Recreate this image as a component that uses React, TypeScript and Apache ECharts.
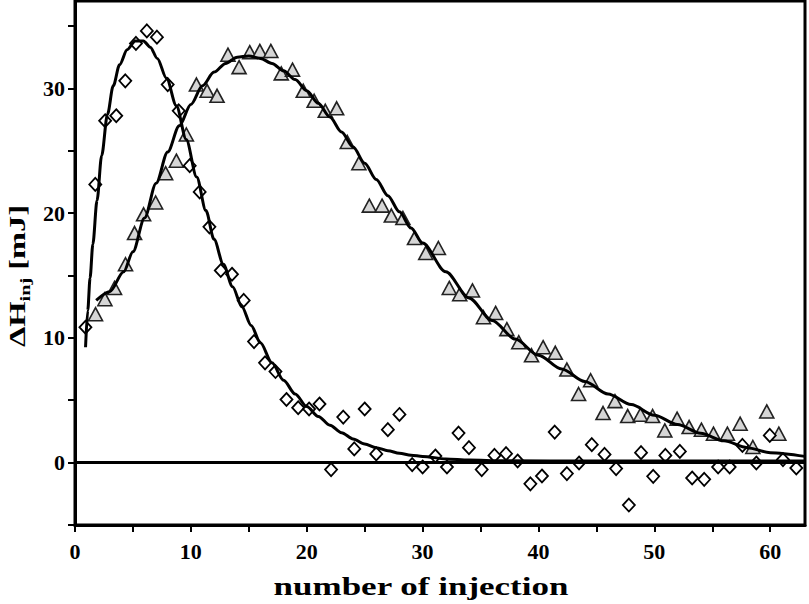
import React, { useEffect, useRef } from "react";
import * as echarts from "echarts";

// Open diamonds (series 1)
const diamondX = [0.9, 1.75, 2.6, 3.56, 4.34, 5.26, 6.2, 7.07, 8.0, 8.95, 9.9, 10.76, 11.6, 12.58, 13.55, 14.56, 15.45, 16.4, 17.3, 18.25, 19.26, 20.2, 21.1, 22.1, 23.15, 24.1, 25.0, 26.0, 27.0, 28.0, 29.1, 30.0, 31.1, 32.1, 33.1, 34.0, 35.1, 36.2, 37.2, 38.2, 39.3, 40.3, 41.4, 42.45, 43.5, 44.6, 45.7, 46.7, 47.8, 48.85, 49.9, 50.95, 52.2, 53.26, 54.3, 55.5, 56.5, 57.6, 58.8, 59.96, 61.1, 62.25];
const diamondY = [10.85, 22.3, 27.4, 27.8, 30.6, 33.6, 34.6, 34.1, 30.3, 28.2, 23.8, 21.7, 18.9, 15.4, 15.1, 13.0, 9.7, 8.0, 7.3, 5.06, 4.4, 4.3, 4.7, -0.56, 3.65, 1.1, 4.3, 0.7, 2.64, 3.86, -0.16, -0.35, 0.53, -0.35, 2.37, 1.2, -0.56, 0.58, 0.72, 0.13, -1.7, -1.07, 2.45, -0.88, -0.03, 1.44, 0.66, -0.48, -3.4, 0.8, -1.1, 0.58, 0.9, -1.23, -1.34, -0.35, -0.35, 1.38, -0.03, 2.18, 0.24, -0.43];

// Grey triangles (series 2)
const triangleX = [1.77, 2.58, 3.41, 4.36, 5.14, 5.92, 6.96, 7.82, 8.75, 9.61, 10.48, 11.4, 12.26, 13.2, 14.16, 15.08, 15.95, 16.9, 17.8, 18.77, 19.7, 20.64, 21.6, 22.58, 23.5, 24.5, 25.4, 26.5, 27.3, 28.3, 29.3, 30.27, 31.36, 32.3, 33.2, 34.3, 35.25, 36.3, 37.27, 38.3, 39.4, 40.4, 41.45, 42.45, 43.46, 44.5, 45.57, 46.6, 47.7, 48.8, 49.85, 50.9, 51.96, 53.0, 54.06, 55.1, 56.3, 57.4, 58.5, 59.7, 60.74];
const triangleY = [11.9, 13.1, 14.0, 15.9, 18.4, 19.9, 20.85, 23.2, 24.2, 26.3, 30.3, 29.8, 29.4, 32.7, 31.7, 32.9, 33.0, 33.0, 31.2, 31.5, 29.8, 29.0, 28.2, 28.4, 25.7, 24.0, 20.6, 20.6, 19.8, 19.6, 18.0, 16.8, 17.2, 14.0, 13.5, 13.8, 11.65, 12.0, 10.7, 9.65, 8.6, 9.25, 8.8, 7.46, 5.5, 6.6, 3.97, 4.93, 3.73, 3.84, 3.73, 2.58, 3.52, 2.85, 2.64, 2.32, 2.32, 3.12, 1.25, 4.1, 2.32];

// Fitted curve for diamonds
const diamondFitX = [0.91, 1.1, 1.3, 1.54, 1.9, 2.3, 2.8, 3.3, 3.85, 4.5, 5.2, 5.9, 6.5, 7.1, 7.9, 8.75, 9.6, 10.5, 11.3, 12.0, 12.8, 13.6, 14.4, 15.2, 16.0, 17.0, 18.0, 19.0, 20.0, 21.0, 22.0, 23.0, 24.0, 25.0, 26.0, 27.0, 28.0, 29.0, 30.0, 32.0, 34.0, 37.0, 45.0, 63.0];
const diamondFitY = [9.25, 12.2, 14.8, 17.5, 21.0, 24.6, 27.9, 30.2, 31.9, 33.1, 33.8, 33.8, 33.3, 32.4, 30.8, 28.6, 25.9, 22.9, 20.2, 17.9, 15.9, 14.1, 12.5, 11.0, 9.6, 8.0, 6.6, 5.5, 4.5, 3.7, 3.0, 2.4, 1.9, 1.5, 1.2, 0.95, 0.75, 0.6, 0.5, 0.3, 0.2, 0.15, 0.12, 0.12];

// Fitted curve for triangles
const triangleFitX = [1.83, 3.0, 4.2, 5.0, 6.0, 7.0, 8.0, 9.0, 10.0, 11.0, 12.0, 13.0, 14.0, 15.0, 16.0, 17.0, 18.0, 19.0, 20.0, 21.0, 22.0, 23.0, 24.0, 25.0, 26.0, 27.0, 28.0, 29.0, 30.0, 32.0, 34.0, 36.0, 38.0, 40.0, 42.0, 44.0, 46.0, 48.0, 50.0, 52.0, 54.0, 56.0, 58.0, 60.0, 63.0];
const triangleFitY = [13.0, 13.7, 15.3, 16.9, 19.6, 22.4, 24.9, 27.0, 28.7, 30.2, 31.3, 32.0, 32.5, 32.6, 32.4, 32.0, 31.4, 30.7, 29.8, 28.8, 27.7, 26.5, 25.3, 24.0, 22.7, 21.4, 20.1, 18.8, 17.6, 15.3, 13.2, 11.4, 9.9, 8.6, 7.5, 6.5, 5.5, 4.65, 3.8, 3.05, 2.35, 1.75, 1.2, 0.8, 0.5];

// Axis ticks and labels
const xTicks = [0, 5, 10, 15, 20, 25, 30, 35, 40, 45, 50, 55, 60];
const xLabels = [0, 10, 20, 30, 40, 50, 60];
const yTicks = [-5, 0, 5, 10, 15, 20, 25, 30, 35];
const yLabels = [0, 10, 20, 30];

const xTitle = "number of injection";
const yTitle = "{a|ΔH}{s|inj}{a| [mJ]}";

const FONT = "Liberation Serif";

const zip = (xs: number[], ys: number[]) => xs.map((x, i) => [x, ys[i]]);

export default function App() {
  const ref = useRef<HTMLDivElement>(null);
  useEffect(() => {
    if (!ref.current) return;
    const chart = echarts.init(ref.current, null, { renderer: "svg" });
    const axisLabelStyle = {
      fontFamily: FONT,
      fontWeight: "bold" as const,
      fontSize: 22,
      color: "#000",
    };
    chart.setOption({
      animation: false,
      backgroundColor: "#fff",
      grid: {
        left: 75,
        right: 4,
        top: 1,
        bottom: 79,
        show: true,
        borderColor: "#000",
        borderWidth: 3,
        outerBoundsMode: "none",
      },
      xAxis: {
        type: "value",
        min: 0,
        max: 63,
        axisLine: { show: true, onZero: false, lineStyle: { color: "#000", width: 3 } },
        axisTick: { show: true, customValues: xTicks, length: 7, lineStyle: { color: "#000", width: 2 } },
        axisLabel: { ...axisLabelStyle, customValues: xLabels, margin: 15 },
        splitLine: { show: false },
      },
      yAxis: {
        type: "value",
        min: -5,
        max: 37,
        axisLine: { show: true, onZero: false, lineStyle: { color: "#000", width: 3 } },
        axisTick: { show: true, customValues: yTicks, length: 7, lineStyle: { color: "#000", width: 2 } },
        axisLabel: { ...axisLabelStyle, customValues: yLabels, margin: 10 },
        splitLine: { show: false },
      },
      graphic: [
        {
          type: "text",
          x: 421,
          y: 587,
          scaleX: 1.4,
          style: {
            text: xTitle,
            fontFamily: FONT,
            fontWeight: "bold",
            fontSize: 25,
            fill: "#000",
            align: "center",
            verticalAlign: "middle",
          },
        },
        {
          type: "text",
          x: 17,
          y: 276,
          rotation: Math.PI / 2,
          scaleX: 1.35,
          style: {
            text: yTitle,
            align: "center",
            verticalAlign: "middle",
            fill: "#000",
            fontFamily: FONT,
            fontWeight: "bold",
            rich: {
              a: { fontFamily: FONT, fontWeight: "bold", fontSize: 24, fill: "#000", lineHeight: 30 },
              s: { fontFamily: FONT, fontWeight: "bold", fontSize: 15, fill: "#000", lineHeight: 15, verticalAlign: "bottom" },
            },
          },
        },
      ],
      series: [
        {
          name: "fit diamonds",
          type: "line",
          data: zip(diamondFitX, diamondFitY),
          showSymbol: false,
          smooth: 0.3,
          smoothMonotone: "x",
          lineStyle: { color: "#000", width: 3 },
          markLine: {
            silent: true,
            symbol: ["none", "none"],
            label: { show: false },
            lineStyle: { color: "#000", width: 3, type: "solid" },
            data: [{ yAxis: 0 }],
          },
        },
        {
          name: "fit triangles",
          type: "line",
          data: zip(triangleFitX, triangleFitY),
          showSymbol: false,
          smooth: 0.3,
          smoothMonotone: "x",
          lineStyle: { color: "#000", width: 3 },
        },
        {
          name: "triangles",
          type: "scatter",
          symbol: "triangle",
          symbolSize: [14, 13],
          data: zip(triangleX, triangleY),
          itemStyle: { color: "#d6d6d6", borderColor: "#222", borderWidth: 1.6, opacity: 1 },
        },
        {
          name: "diamonds",
          type: "scatter",
          symbol: "diamond",
          symbolSize: [12, 13],
          data: zip(diamondX, diamondY),
          itemStyle: { color: "#fff", borderColor: "#000", borderWidth: 1.8, opacity: 1 },
        },
      ],
    });
    return () => chart.dispose();
  }, []);
  return (
    <div
      ref={ref}
      style={{ position: "fixed", left: 0, top: 0, width: 809, height: 604 }}
    />
  );
}
